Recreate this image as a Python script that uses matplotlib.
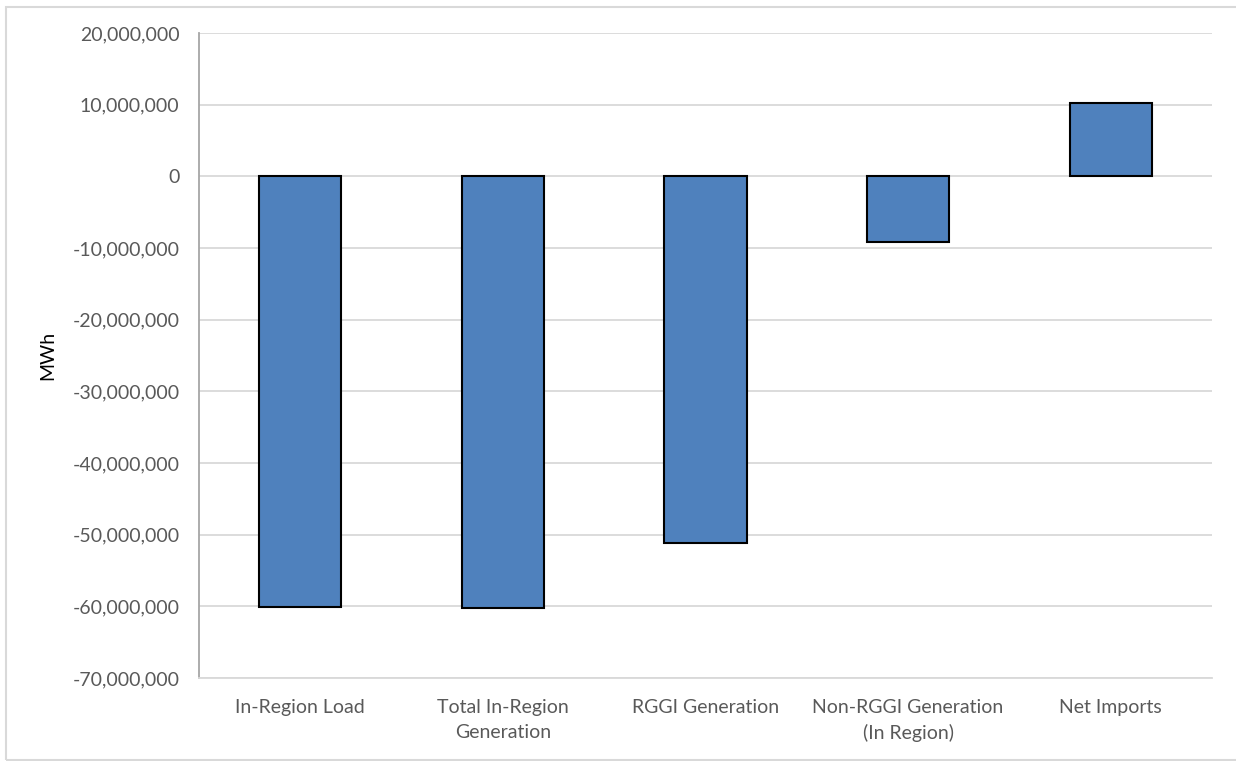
import matplotlib
matplotlib.use("Agg")
import matplotlib.pyplot as plt
from matplotlib.patches import Rectangle
from matplotlib.ticker import FuncFormatter, MultipleLocator

categories = ["In-Region Load", "Total In-Region\nGeneration", "RGGI Generation",
              "Non-RGGI Generation\n(In Region)", "Net Imports"]
values = [-60_050_000, -60_300_000, -51_200_000, -9_100_000, 10_200_000]

plt.rcParams["font.family"] = ["Lato", "DejaVu Sans"]

fig = plt.figure(figsize=(12.36, 7.61), dpi=100)
ax = fig.add_axes([199 / 1236, 1 - 678 / 761, (1212 - 199) / 1236, (678 - 33) / 761])

x = range(len(categories))
ax.bar(x, values, width=0.405, color="#4F81BD", edgecolor="black", linewidth=1.5, zorder=3)

ax.set_ylim(-70_000_000, 20_000_000)
ax.set_xlim(-0.5, len(categories) - 0.5)
ax.yaxis.set_major_locator(MultipleLocator(10_000_000))
ax.yaxis.set_major_formatter(FuncFormatter(lambda v, p: f"{int(v):,}"))
ax.grid(axis="y", color="#d9d9d9", linewidth=1.3, zorder=0)

ax.set_xticks(list(x))
ax.set_xticklabels(categories, linespacing=1.55)
ax.tick_params(axis="both", length=0, labelsize=14, labelcolor="#595959")
ax.tick_params(axis="y", pad=14)
ax.tick_params(axis="x", pad=15)

for s in ["top", "right"]:
    ax.spines[s].set_visible(False)
ax.spines["left"].set_color("#a6a6a6")
ax.spines["left"].set_linewidth(1.3)
ax.spines["bottom"].set_color("#d9d9d9")
ax.spines["bottom"].set_linewidth(1.3)

ax.set_ylabel("MWh", fontsize=14, color="black", labelpad=12)

# outer chart border
fig.patches.append(Rectangle((6 / 1236, 1 / 761), 1.1, 753 / 761, transform=fig.transFigure,
                             fill=False, edgecolor="#d9d9d9", linewidth=1.5))

fig.savefig("out.png", dpi=100)
